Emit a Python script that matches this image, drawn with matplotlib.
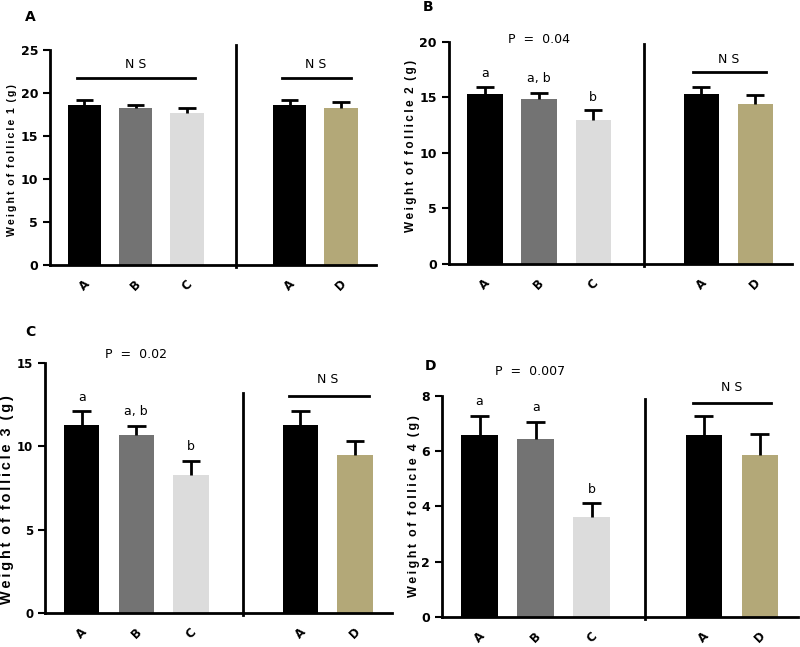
import matplotlib.pyplot as plt
import numpy as np

plt.rcParams['font.family'] = ['DejaVu Sans']

# 数据
groups = ['A', 'B', 'C', 'A', 'D']
pos = [0, 1, 2, 4, 5]
colors = ['#000000', '#737373', '#dcdcdc', '#000000', '#b3a878']

f1_mean = [18.6, 18.2, 17.7, 18.6, 18.2]
f1_err = [0.6, 0.4, 0.6, 0.6, 0.7]
f2_mean = [15.3, 14.9, 13.0, 15.3, 14.4]
f2_err = [0.6, 0.5, 0.9, 0.6, 0.8]
f3_mean = [11.3, 10.7, 8.3, 11.3, 9.5]
f3_err = [0.8, 0.5, 0.8, 0.8, 0.8]
f4_mean = [6.57, 6.45, 3.61, 6.57, 5.87]
f4_err = [0.69, 0.60, 0.51, 0.69, 0.76]

letters2 = ['a', 'a, b', 'b']
letters3 = ['a', 'a, b', 'b']
letters4 = ['a', 'a', 'b']


def spaced(s):
    # 字母间加细空格
    return '  '.join('\u2009'.join(w) for w in s.split(' '))


fig = plt.figure(figsize=(8, 6.47), dpi=100)

panels = [
    dict(rect=[0.0625, 0.5904, 0.4075, 0.3323], mean=f1_mean, err=f1_err, ymax=25,
         ticks=[0, 5, 10, 15, 20, 25], n=1, lsize=7.6, lx=-0.10, ly=0.486, div=25.6,
         tsize=9, tag='A', tagxy=(30, 17)),
    dict(rect=[0.561, 0.592, 0.429, 0.3431], mean=f2_mean, err=f2_err, ymax=20,
         ticks=[0, 5, 10, 15, 20], n=2, lsize=8.5, lx=-0.093, ly=0.53, div=19.8,
         tsize=9, tag='B', tagxy=(428, 7)),
    dict(rect=[0.05625, 0.0526, 0.434, 0.3864], mean=f3_mean, err=f3_err, ymax=15,
         ticks=[0, 5, 10, 15], n=3, lsize=10.4, lx=-0.088, ly=0.452, div=13.2,
         tsize=8.5, tag='C', tagxy=(30, 332)),
    dict(rect=[0.5525, 0.0464, 0.445, 0.3416], mean=f4_mean, err=f4_err, ymax=8,
         ticks=[0, 2, 4, 6, 8], n=4, lsize=9.0, lx=-0.062, ly=0.50, div=7.9,
         tsize=9, tag='D', tagxy=(430, 366)),
]

axes = []
for p in panels:
    ax = fig.add_axes(p['rect'])
    axes.append(ax)
    ax.bar(pos, p['mean'], width=0.65, color=colors, edgecolor='none', zorder=2)
    tops = np.array(p['mean']) + np.array(p['err'])
    ax.vlines(pos, p['mean'], tops, color='black', lw=2, zorder=3)
    ax.hlines(tops, np.array(pos) - 0.17, np.array(pos) + 0.17, color='black', lw=2, zorder=3)
    ax.set_ylim(0, p['ymax'])
    ax.set_xlim(-0.67, 5.68)
    ax.set_yticks(p['ticks'])
    ax.set_xticks(pos)
    ax.set_xticklabels(groups, rotation=45, fontweight='bold', fontsize=8.5)
    ax.tick_params(axis='x', length=0, pad=9)
    ax.tick_params(axis='y', direction='out', length=5, width=1.5, labelsize=p['tsize'])
    for lab in ax.get_yticklabels():
        lab.set_fontweight('bold')
    for s in ['top', 'right']:
        ax.spines[s].set_visible(False)
    for s in ['left', 'bottom']:
        ax.spines[s].set_linewidth(2)
    ax.set_ylabel(spaced('Weight of follicle %d (g)' % p['n']),
                  fontweight='bold', fontsize=p['lsize'],
                  family=['Liberation Sans', 'DejaVu Sans'])
    ax.yaxis.set_label_coords(p['lx'], p['ly'])
    # 分隔线
    ax.plot([2.95, 2.95], [-0.01 * p['ymax'], p['div']], color='black', lw=2, clip_on=False)
    fig.text(p['tagxy'][0] / 800, 1 - p['tagxy'][1] / 647, p['tag'],
             fontweight='bold', fontsize=10, ha='center', va='center')

# 标注
ax = axes[0]
ax.plot([-0.15, 2.15], [21.7, 21.7], color='black', lw=2)
ax.text(1, 23.3, 'N S', ha='center', va='center', fontsize=9)
ax.plot([3.85, 5.2], [21.7, 21.7], color='black', lw=2)
ax.text(4.5, 23.3, 'N S', ha='center', va='center', fontsize=9)

ax = axes[1]
ax.text(1, 20.2, 'P  =  0.04', ha='center', va='center', fontsize=9, clip_on=False)
for x, t, y in zip(pos[:3], letters2, [17.2, 16.7, 15.0]):
    ax.text(x, y, t, ha='center', va='center', fontsize=9)
ax.plot([3.85, 5.2], [17.3, 17.3], color='black', lw=2)
ax.text(4.5, 18.4, 'N S', ha='center', va='center', fontsize=9)

ax = axes[2]
ax.text(1.0, 15.5, 'P  =  0.02', ha='center', va='center', fontsize=9, clip_on=False)
for x, t, y in zip(pos[:3], letters3, [12.9, 12.1, 10.0]):
    ax.text(x, y, t, ha='center', va='center', fontsize=9)
ax.plot([3.8, 5.25], [13.0, 13.0], color='black', lw=2)
ax.text(4.5, 14.0, 'N S', ha='center', va='center', fontsize=9)

ax = axes[3]
ax.text(0.9, 8.9, 'P  =  0.007', ha='center', va='center', fontsize=9, clip_on=False)
for x, t, y in zip(pos[:3], letters4, [7.8, 7.58, 4.6]):
    ax.text(x, y, t, ha='center', va='center', fontsize=9)
ax.plot([3.8, 5.2], [7.75, 7.75], color='black', lw=2)
ax.text(4.5, 8.3, 'N S', ha='center', va='center', fontsize=9)

plt.savefig('out.png', dpi=100)
